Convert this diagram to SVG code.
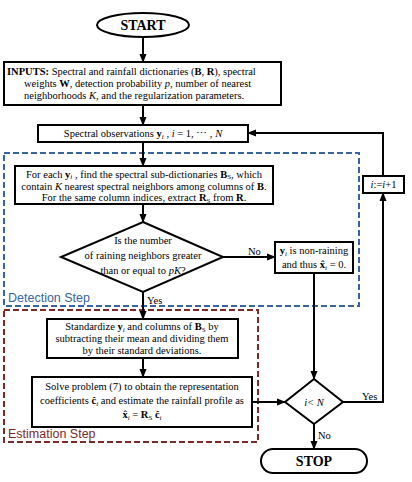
<svg xmlns="http://www.w3.org/2000/svg" width="412" height="482" viewBox="0 0 412 482">
<defs>
<style>
.t{font-family:"Liberation Serif","Times New Roman",serif;font-size:10.5px;fill:#000}
.c{text-anchor:middle}
.b{font-weight:bold}
.i{font-style:italic}
.box{fill:#fff;stroke:#000;stroke-width:2}
.ln{fill:none;stroke:#000;stroke-width:2}
.arr{fill:none;stroke:#000;stroke-width:2;marker-end:url(#ah)}
.lbl{font-family:"Liberation Sans",Arial,sans-serif;font-size:12.5px}
</style>
<marker id="ah" markerWidth="9" markerHeight="8" refX="8" refY="4" orient="auto" markerUnits="userSpaceOnUse"><path d="M0,0.5 L9,4 L0,7.5z" fill="#000"/></marker>
</defs>
<rect width="412" height="482" fill="#fff"/>

<g id="regions">
<rect x="4" y="153" width="355" height="153" fill="none" stroke="#3a64a0" stroke-width="2" stroke-dasharray="6,3"/>
<text class="lbl" x="8" y="302" fill="#3a64a0">Detection Step</text>
<rect x="4" y="310" width="254" height="132" fill="none" stroke="#7b2a2a" stroke-width="2" stroke-dasharray="6,3"/>
<text class="lbl" x="8" y="438" fill="#7b2a2a">Estimation Step</text>
</g>

<g id="connectors">
<path class="arr" d="M143,37 V62"/>
<path class="arr" d="M143,105 V125"/>
<path class="arr" d="M143,142 V166"/>
<path class="arr" d="M143,204 V222"/>
<path class="arr" d="M223,257 H275"/>
<path class="arr" d="M143,292 V319"/>
<path class="arr" d="M143,358 V377"/>
<path class="arr" d="M252,402 H285"/>
<path class="arr" d="M314,273 V379"/>
<path class="arr" d="M343,402 H383 V193"/>
<path class="arr" d="M383,176 V133 H248"/>
<path class="arr" d="M314,424 V449"/>
<text class="t" x="248" y="255">No</text>
<text class="t" x="147" y="304">Yes</text>
<text class="t" x="362" y="400">Yes</text>
<text class="t" x="318" y="439">No</text>
</g>

<g id="start">
<ellipse class="box" cx="143" cy="25" rx="46" ry="12"/>
<text class="t b c" x="143" y="30" style="font-size:14px">START</text>
</g>

<g id="inputs">
<rect class="box" x="4" y="62" width="277" height="43"/>
<text class="t" x="7" y="75"><tspan class="b">INPUTS:</tspan> Spectral and rainfall dictionaries (<tspan class="b">B</tspan>, <tspan class="b">R</tspan>), spectral</text>
<text class="t" x="24" y="87">weights <tspan class="b">W</tspan>, detection probability <tspan class="i">p</tspan>, number of nearest</text>
<text class="t" x="24" y="99">neighborhoods <tspan class="i">K</tspan>, and the regularization parameters.</text>
</g>

<g id="observations">
<rect class="box" x="38" y="125" width="210" height="17"/>
<text class="t c" x="143" y="137">Spectral observations <tspan class="b">y</tspan><tspan class="i" dy="1.5" font-size="7">i</tspan><tspan dy="-1.5"> , </tspan><tspan class="i">i</tspan> = 1, ⋯ , <tspan class="i">N</tspan></text>
</g>

<g id="neighbors">
<rect class="box" x="15" y="166" width="258" height="38"/>
<text class="t c" x="144" y="177.5">For each <tspan class="b">y</tspan><tspan class="i" dy="1.5" font-size="7">i</tspan><tspan dy="-1.5"> , find the spectral sub-dictionaries </tspan><tspan class="b">B</tspan><tspan dy="1.5" font-size="7">S</tspan><tspan dy="-1.5">, which</tspan></text>
<text class="t c" x="144" y="189.5">contain <tspan class="i">K</tspan> nearest spectral neighbors among columns of <tspan class="b">B</tspan>.</text>
<text class="t c" x="144" y="201">For the same column indices, extract <tspan class="b">R</tspan><tspan dy="1.5" font-size="7">S</tspan><tspan dy="-1.5"> from </tspan><tspan class="b">R</tspan>.</text>
</g>

<g id="decision-raining">
<polygon class="box" points="143,222 223,257 143,292 61,257"/>
<text class="t c" x="143" y="244">Is the number</text>
<text class="t c" x="143" y="259">of raining neighbors greater</text>
<text class="t c" x="143" y="274">than or equal to <tspan class="i">pK</tspan>?</text>
</g>

<g id="non-raining">
<rect class="box" x="275" y="242" width="78" height="31"/>
<text class="t c" x="314" y="254"><tspan class="b">y</tspan><tspan class="i" dy="1.5" font-size="7">i</tspan><tspan dy="-1.5">  is non-raining</tspan></text>
<text class="t c" x="314" y="268">and thus <tspan class="b">x̂</tspan><tspan class="i" dy="1.5" font-size="7">i</tspan><tspan dy="-1.5"> = 0.</tspan></text>
</g>

<g id="standardize">
<rect class="box" x="47" y="319" width="191" height="39"/>
<text class="t c" x="142" y="330">Standardize <tspan class="b">y</tspan><tspan class="i" dy="1.5" font-size="7">i</tspan><tspan dy="-1.5"> and columns of </tspan><tspan class="b">B</tspan><tspan dy="1.5" font-size="7">S</tspan><tspan dy="-1.5"> by</tspan></text>
<text class="t c" x="142" y="342">subtracting their mean and dividing them</text>
<text class="t c" x="142" y="354">by their standard deviations.</text>
</g>

<g id="solve">
<rect class="box" x="32" y="377" width="220" height="50"/>
<text class="t c" x="142" y="390">Solve problem (7) to obtain the representation</text>
<text class="t c" x="142" y="404">coefficients <tspan class="b">ĉ</tspan><tspan class="i" dy="1.5" font-size="7">i</tspan><tspan dy="-1.5">  and estimate the rainfall profile as</tspan></text>
<text class="t c" x="142" y="418"><tspan class="b">x̂</tspan><tspan class="i" dy="1.5" font-size="7">i</tspan><tspan dy="-1.5"> = </tspan><tspan class="b">R</tspan><tspan dy="1.5" font-size="7">S</tspan><tspan dy="-1.5"> </tspan><tspan class="b">ĉ</tspan><tspan class="i" dy="1.5" font-size="7">i</tspan></text>
</g>

<g id="decision-count">
<polygon class="box" points="314,379 343,402 314,424 285,402"/>
<text class="t c i" x="314" y="406">i&lt; N</text>
</g>

<g id="increment">
<rect class="box" x="363" y="176" width="41" height="17"/>
<text class="t c" x="383.5" y="188"><tspan class="i">i</tspan>:=<tspan class="i">i</tspan>+1</text>
</g>

<g id="stop">
<rect class="box" x="261" y="449" width="106" height="24" rx="12" ry="12"/>
<text class="t b c" x="314" y="466" style="font-size:14px">STOP</text>
</g>
</svg>
